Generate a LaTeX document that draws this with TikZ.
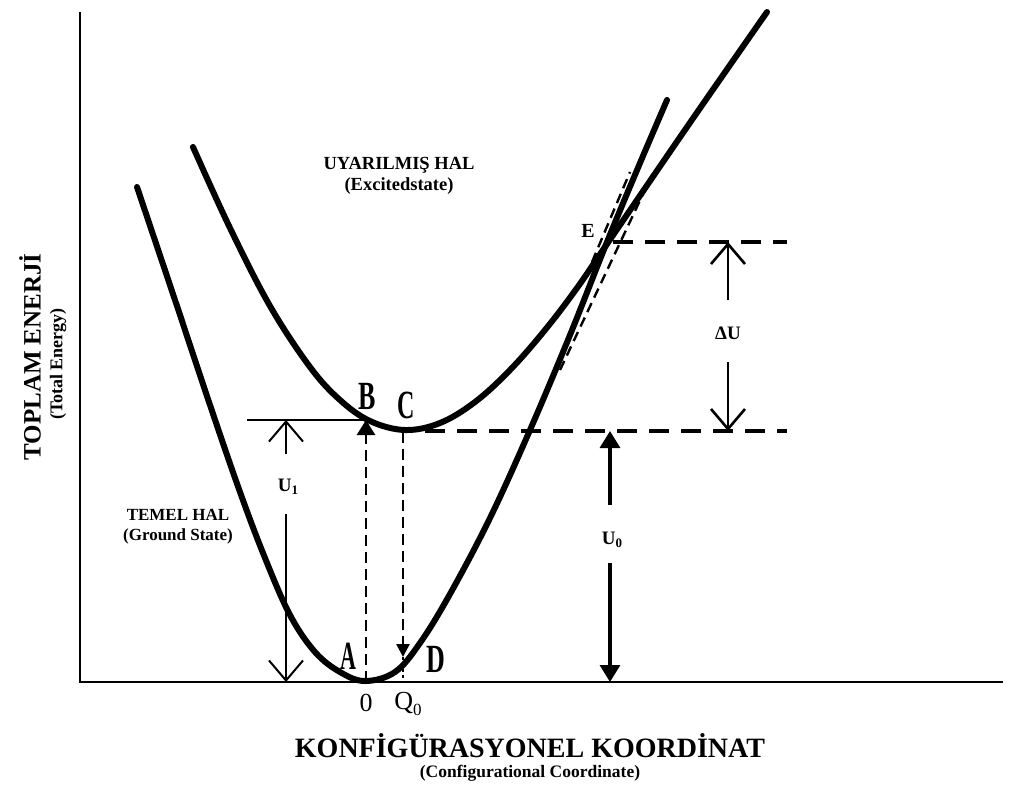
\documentclass[tikz,border=0pt]{standalone}
\usepackage{fontspec}
\setmainfont{Liberation Serif}
\usetikzlibrary{arrows.meta,calc}
\begin{document}
\begin{tikzpicture}[x=1pt,y=-1pt,
  curve/.style={line width=6pt, line cap=round, line join=round},
  axisline/.style={line width=2.2pt},
  hdash/.style={line width=4pt, dash pattern=on 20pt off 12pt},
  vdash/.style={line width=2.6pt, dash pattern=on 11pt off 6pt},
  tdash/.style={line width=2.4pt, dash pattern=on 10pt off 6pt},
  barb/.style={line width=2pt, -{Straight Barb[length=20pt,width=34pt]}},
  tri/.style={line width=3.2pt, -{Triangle[length=17pt,width=20pt]}},
  lab/.style={font=\bfseries\fontsize{17}{20}\selectfont, align=center, inner sep=1pt},
  big/.style={font=\bfseries\fontsize{40}{40}\selectfont, inner sep=0pt},
  num/.style={font=\fontsize{26}{26}\selectfont, inner sep=0pt}
]
\useasboundingbox (0,0) rectangle (1020,785);
% axes
\coordinate (O) at (80,682);
\coordinate (ytop) at (80,12);
\coordinate (xend) at (1003,682);
\draw[axisline] (ytop) -- (O) -- (xend);

% ground state curve
\draw[curve] plot[smooth, tension=0.6] coordinates {(137,187) (175,300) (210,405) (240,492) (265,558) (290,615) (315,652) (340,672) (365,681) (395,672) (420,643) (450,594) (490,518) (530,430) (570,335) (607,242) (640,163) (667,100)};

% excited state curve
\draw[curve] plot[smooth, tension=0.6] coordinates {(193,147) (230,228) (270,306) (310,367) (340,400) (370,421) (405,430) (440,423) (475,402) (510,370) (545,330) (577,288) (607,244) (687,127) (767,12)};

% tangent dashed lines near E
\coordinate (t1a) at (592,262);
\coordinate (t1b) at (630,172);
\coordinate (t2a) at (560,370);
\coordinate (t2b) at (652,175);
\draw[tdash] (t1a) -- (t1b);
\draw[tdash] (t2a) -- (t2b);

% points
\coordinate (Ept) at (607,242);
\coordinate (Bpt) at (366,420);
\coordinate (Cpt) at (403,432);
\coordinate (Dpt) at (403,657);
\coordinate (Apt) at (366,682);
\coordinate (Qpt) at (403,682);

% horizontal dashed lines
\coordinate (Eend) at (787,242);
\coordinate (Cst) at (425,431);
\coordinate (Cend) at (787,431);
\draw[hdash] ($(Ept)+(6,0)$) -- (Eend);
\draw[hdash] (Cst) -- (Cend);

% B arrow (dashed vertical with filled head)
\draw[vdash, -{Triangle[length=15pt,width=18pt]}] (Apt) -- (Bpt);
% C -> D arrow
\draw[vdash, -{Triangle[length=13pt,width=13pt]}] (Cpt) -- (Dpt);
\draw[line width=2pt, dash pattern=on 3pt off 3pt] (Dpt) -- (Qpt);

% U1 reference line
\coordinate (u1l) at (247,420);
\draw[line width=1.6pt] (u1l) -- (Bpt);

% labels
\node[lab, font=\bfseries\fontsize{18.5}{21}\selectfont] (Ulab) at (399,176) {UYARILMIŞ HAL\\(Excitedstate)};
\node[lab] (Tlab) at (178,527) {TEMEL HAL\\(Ground State)};
\node[big] (B) at (367,396) {\scalebox{0.65}[1]{B}};
\node[big] (C) at (406,405) {\scalebox{0.6}[1]{C}};
\node[big] (A) at (348,656) {\scalebox{0.55}[1]{A}};
\node[big] (D) at (436,659) {\scalebox{0.65}[1]{D}};
\node[font=\bfseries\fontsize{20}{20}\selectfont, inner sep=0pt] (E) at (588,231) {E};
\node[num] (zero) at (366,703) {0};
\node[num] (Q) at (408,704) {Q\raisebox{-0.22em}{\fontsize{17}{17}\selectfont 0}};

% U1 arrows
\node[lab, font=\bfseries\fontsize{19}{19}\selectfont] (U1) at (288,487) {U\raisebox{-0.15em}{\fontsize{13}{13}\selectfont 1}};
\coordinate (u1top) at (286,420);
\coordinate (u1a) at (286,454);
\coordinate (u1b) at (286,514);
\coordinate (u1bot) at (286,682);
\draw[barb] (u1a) -- (u1top);
\draw[barb] (u1b) -- (u1bot);

% Delta U arrows
\node[lab, font=\bfseries\fontsize{19}{19}\selectfont] (DU) at (728,333) {ΔU};
\coordinate (dutop) at (728,242);
\coordinate (dua) at (728,300);
\coordinate (dub) at (728,362);
\coordinate (dubot) at (728,431);
\draw[barb, line width=2.6pt] (dua) -- (dutop);
\draw[barb, line width=2.6pt] (dub) -- (dubot);

% U0 arrows
\node[lab, font=\bfseries\fontsize{19}{19}\selectfont] (U0) at (612,540) {U\raisebox{-0.15em}{\fontsize{13}{13}\selectfont 0}};
\coordinate (u0top) at (610,431);
\coordinate (u0a) at (610,505);
\coordinate (u0b) at (610,563);
\coordinate (u0bot) at (610,682);
\draw[tri] (u0a) -- (u0top);
\draw[tri] (u0b) -- (u0bot);

% axis titles
\node[font=\bfseries\fontsize{28}{30}\selectfont] (xt) at (530,746) {KONFİGÜRASYONEL KOORDİNAT};
\node[font=\bfseries\fontsize{17.5}{20}\selectfont] (xs) at (530,773) {(Configurational Coordinate)};
\node[rotate=90, font=\bfseries\fontsize{25}{28}\selectfont] (yt) at (30,357) {TOPLAM ENERJİ};
\node[rotate=90, font=\bfseries\fontsize{18}{20}\selectfont] (ys) at (58,364) {(Total Energy)};
\end{tikzpicture}
\end{document}
